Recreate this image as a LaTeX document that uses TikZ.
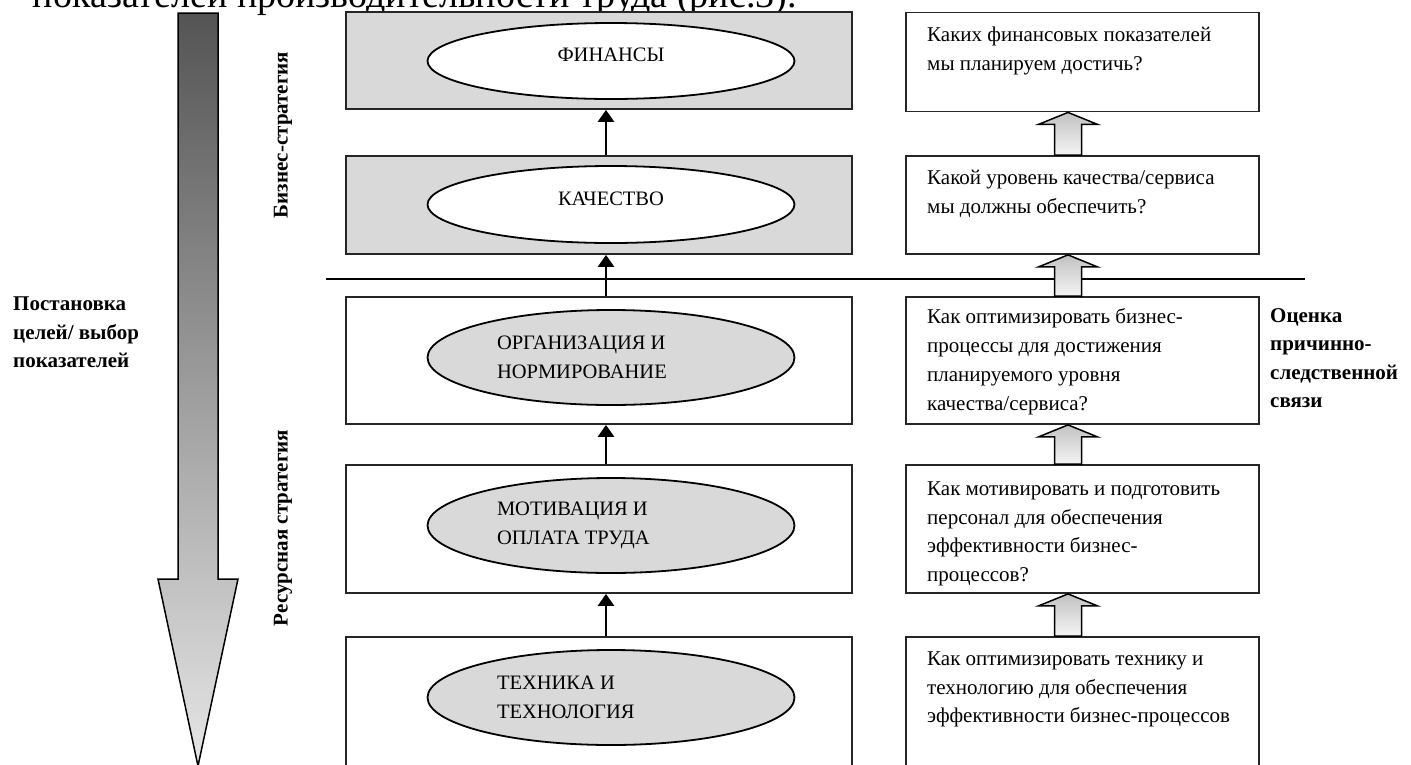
\documentclass[tikz,border=0pt]{standalone}
\usepackage{fontspec}
\setmainfont{Liberation Serif}
\usetikzlibrary{shapes.geometric,arrows.meta,calc}
\definecolor{boxgray}{HTML}{D9D9D9}
\tikzset{
  lbox/.style={draw=black!85, line width=1.8pt, minimum width=506pt, inner sep=0pt},
  rbox/.style={draw=black!85, line width=1.8pt, minimum width=353pt, inner sep=0pt, fill=white},
  oval/.style={ellipse, draw=black, line width=1.8pt, minimum width=367pt, inner sep=0pt,
               font=\fontsize{20.5}{28.5}\selectfont},
  raised/.style={text depth=12pt},
  qtext/.style={anchor=north west, inner sep=0pt, font=\fontsize{21}{28.5}\selectfont, align=left},
  side/.style={inner sep=0pt, font=\fontsize{21}{28.5}\selectfont\bfseries, align=left},
  uparrow/.style={line width=2.7pt, -{Triangle[length=12pt,width=16pt]}},
  hollow/.style={draw=black, line width=1.5pt, top color=black!24, bottom color=black!4},
}
\begin{document}
\begin{tikzpicture}[x=1pt,y=-1pt]
\path[use as bounding box, clip] (0,0) rectangle (1411,764);

% last line of the running text above the figure
\node[anchor=base east, inner sep=0pt, font=\fontsize{38}{40}\selectfont] (cap) at (797,7)
  {показателей производительности труда (рис.3).};

% big shaded arrow: goal setting runs top-down
\draw[line width=1.5pt, top color=black!67, bottom color=black!10]
  (178,13) -- (218,13) -- (218,579) -- (238,579) -- (198,766) -- (158,579) -- (178,579) -- cycle;

\node[side, anchor=north west] (goal) at (13,297) {Постановка\\целей/ выбор\\показателей};
\node[side, rotate=90] (biz) at (283,135) {Бизнес-стратегия};
\node[side, rotate=90] (res) at (283,528) {Ресурсная стратегия};

% divider between business and resource strategy
\coordinate (divL) at (326,279);
\coordinate (divR) at (1305,279);
\draw[line width=1.8pt] (divL) -- (divR);

% left column: perspectives
\node[lbox, fill=boxgray, minimum height=97pt] (b1) at (599,60.5) {};
\node[lbox, fill=boxgray, minimum height=98pt] (b2) at (599,205) {};
\node[lbox, fill=white, minimum height=127pt] (b3) at (599,360.5) {};
\node[lbox, fill=white, minimum height=128pt] (b4) at (599,529) {};
\node[lbox, fill=white, minimum height=170pt] (b5) at (599,722) {};

\node[oval, raised, fill=white, minimum height=76pt] (e1) at (611,61) {ФИНАНСЫ};
\node[oval, raised, fill=white, minimum height=77pt] (e2) at (611,204.5) {КАЧЕСТВО};
\node[oval, fill=boxgray, minimum height=95pt] (e3) at (611,357.5) {\parbox{228pt}{ОРГАНИЗАЦИЯ И\\НОРМИРОВАНИЕ}};
\node[oval, fill=boxgray, minimum height=95pt] (e4) at (611,525.5) {\parbox{228pt}{МОТИВАЦИЯ И\\ОПЛАТА ТРУДА}};
\node[oval, fill=boxgray, minimum height=95pt] (e5) at (611,697.5) {\parbox{228pt}{ТЕХНИКА И\\ТЕХНОЛОГИЯ}};

% upward links between the perspectives
\coordinate (spine) at (606,0);
\draw[uparrow] (b2.north -| spine) -- (b1.south -| spine);
\draw[uparrow] (b3.north -| spine) -- (b2.south -| spine);
\draw[uparrow] (b4.north -| spine) -- (b3.south -| spine);
\draw[uparrow] (b5.north -| spine) -- (b4.south -| spine);

% right column: guiding questions
\node[rbox, minimum height=99pt] (r1) at (1082.5,62) {};
\node[rbox, minimum height=98pt] (r2) at (1082.5,205) {};
\node[rbox, minimum height=127pt] (r3) at (1082.5,360.5) {};
\node[rbox, minimum height=128pt] (r4) at (1082.5,529) {};
\node[rbox, minimum height=170pt] (r5) at (1082.5,722) {};

\node[qtext] (q1) at (927,27) {Каких финансовых показателей\\мы планируем достичь?};
\node[qtext] (q2) at (927,170) {Какой уровень качества/сервиса\\мы должны обеспечить?};
\node[qtext, font=\fontsize{21}{29.2}\selectfont] (q3) at (927,308) {Как оптимизировать бизнес-\\процессы для достижения\\планируемого уровня\\качества/сервиса?};
\node[qtext] (q4) at (927,482) {Как мотивировать и подготовить\\персонал для обеспечения\\эффективности бизнес-\\процессов?};
\node[qtext] (q5) at (927,652) {Как оптимизировать технику и\\технологию для обеспечения\\эффективности бизнес-процессов};

% hollow block arrows between the questions
\coordinate (flow) at (1068,0);
\foreach \lo/\hi in {r2/r1, r3/r2, r4/r3, r5/r4}{
  \coordinate (tip) at (\hi.south -| flow);
  \coordinate (foot) at (\lo.north -| flow);
  \draw[hollow] ($(foot)+(-13.5,0)$) -- ($(tip)+(-13.5,12)$) -- ($(tip)+(-29.5,12)$)
    -- (tip) -- ($(tip)+(29.5,12)$) -- ($(tip)+(13.5,12)$) -- ($(foot)+(13.5,0)$) -- cycle;
}

\node[side, anchor=north west] (cause) at (1270,308) {Оценка\\причинно-\\следственной\\связи};
\end{tikzpicture}
\end{document}
